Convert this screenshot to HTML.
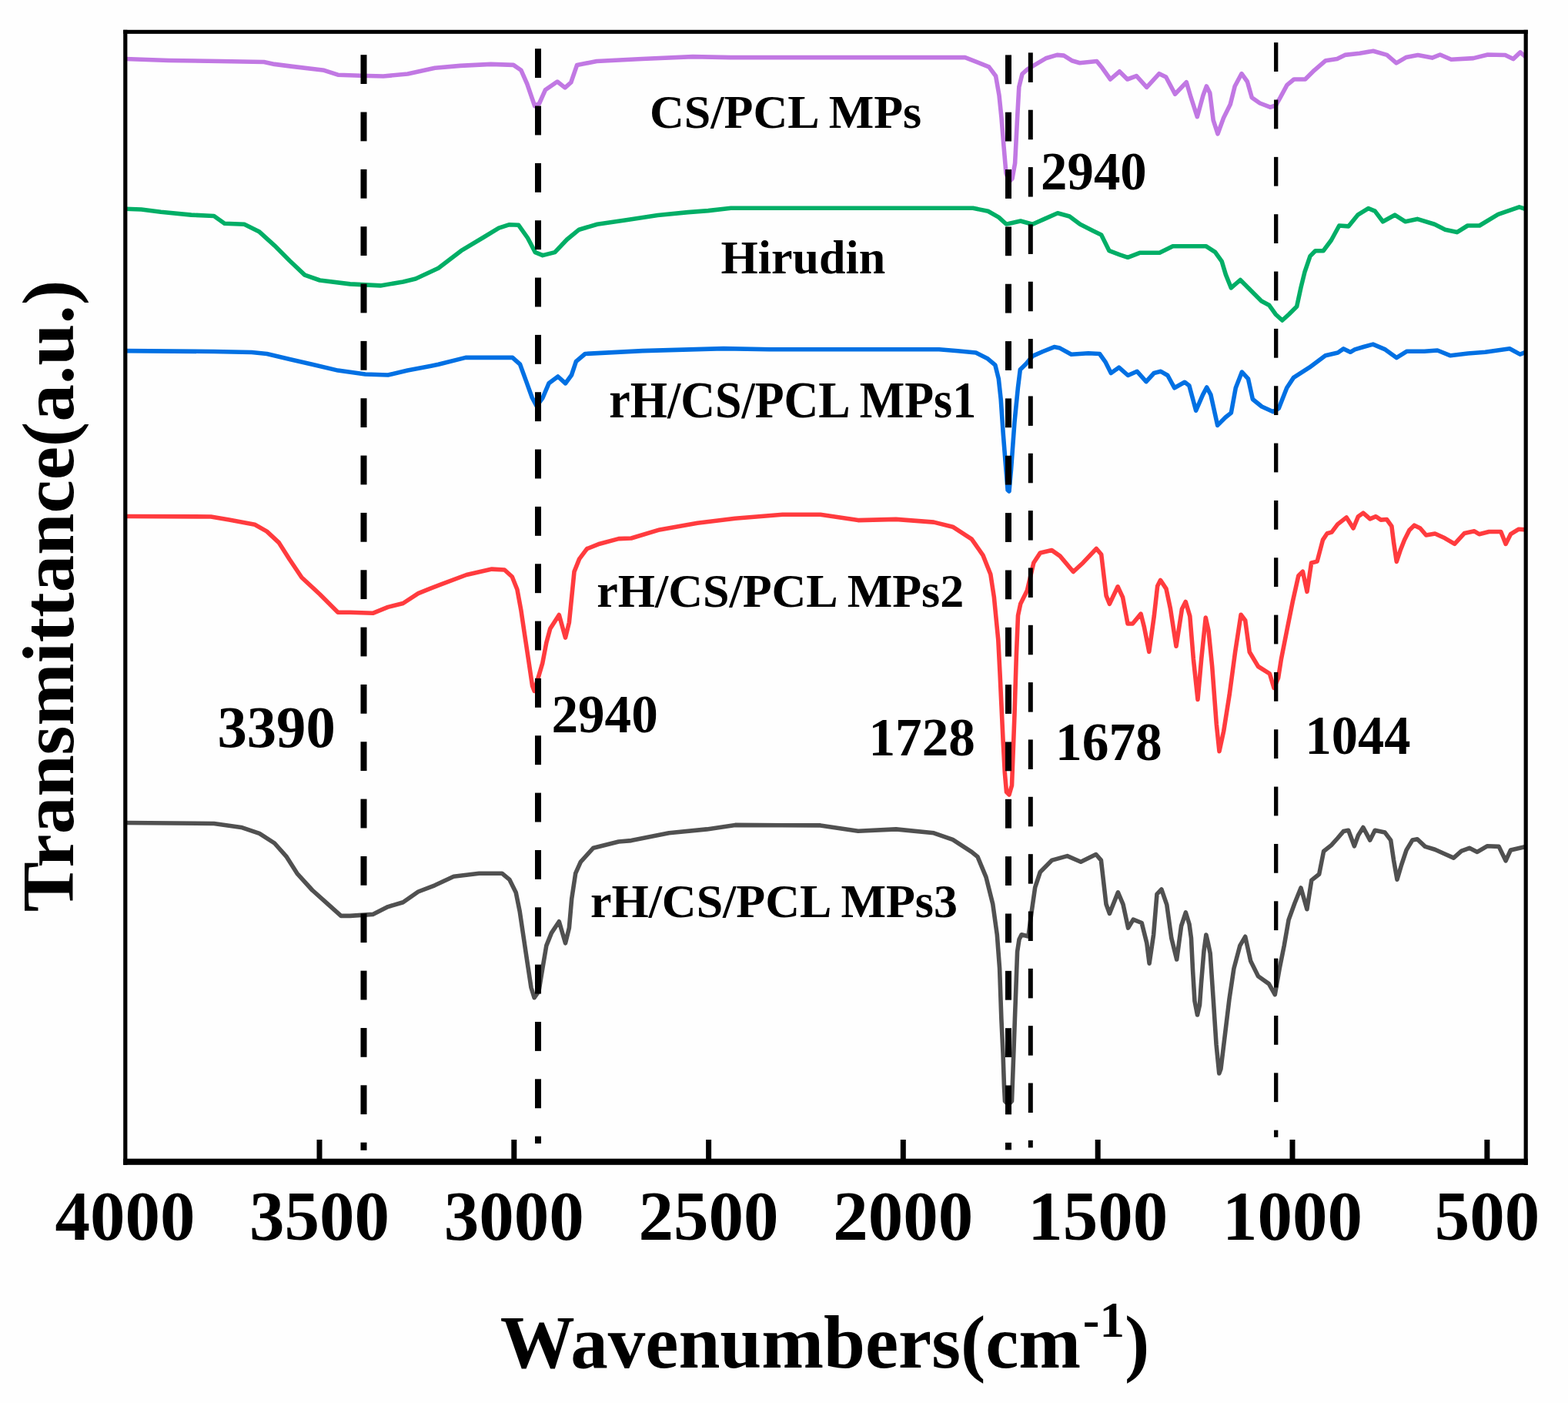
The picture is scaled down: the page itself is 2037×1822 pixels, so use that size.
<!DOCTYPE html>
<html><head><meta charset="utf-8"><title>FTIR spectra</title>
<style>html,body{margin:0;padding:0;background:#fefefe;overflow:hidden;}svg{display:block;}</style>
</head><body>
<svg width="2037" height="1822" viewBox="0 0 2037 1822">
<rect width="2037" height="1822" fill="#fefefe"/>
<g fill="none" stroke-width="5.6" stroke-linejoin="round" stroke-linecap="butt">
<path stroke="#C178E3" d="M163.0 76.5 L219.0 78.5 L286.0 79.5 L343.0 80.5 L356.6 83.4 L380.0 86.4 L421.0 91.3 L439.0 97.2 L468.6 98.2 L498.0 99.0 L529.5 96.0 L565.0 88.3 L598.0 85.4 L637.6 83.4 L667.0 84.4 L677.0 91.3 L684.8 109.0 L694.6 137.5 L700.5 134.5 L708.4 116.8 L724.0 106.0 L734.0 113.9 L741.8 107.0 L749.6 84.4 L775.2 79.5 L834.0 76.5 L900.0 73.6 L949.0 74.6 L1253.8 74.6 L1273.5 82.4 L1284.7 86.9 L1293.6 98.7 L1298.0 123.7 L1301.0 153.0 L1304.0 190.0 L1307.0 225.0 L1311.0 236.0 L1315.0 232.0 L1318.6 212.0 L1321.6 153.0 L1323.8 113.0 L1328.0 96.0 L1334.9 89.8 L1343.7 84.6 L1358.5 75.8 L1373.2 71.4 L1382.0 72.1 L1392.4 78.7 L1402.7 81.7 L1424.8 79.5 L1432.0 88.3 L1442.5 103.0 L1454.3 92.8 L1464.6 103.0 L1476.4 98.7 L1489.7 113.4 L1505.9 95.7 L1514.7 100.0 L1526.5 122.2 L1541.3 106.8 L1547.2 126.7 L1555.3 151.7 L1563.0 123.7 L1567.4 112.0 L1571.8 120.8 L1576.2 156.1 L1582.0 173.8 L1589.5 153.2 L1598.3 135.5 L1604.2 112.0 L1613.0 95.7 L1620.4 106.0 L1626.3 126.7 L1636.7 134.0 L1650.0 139.2 L1657.3 137.0 L1663.2 126.7 L1672.0 110.4 L1681.0 103.0 L1695.6 103.0 L1707.4 91.3 L1722.2 78.7 L1737.0 76.5 L1747.2 71.4 L1766.4 69.2 L1784.0 66.2 L1801.8 71.4 L1814.0 81.8 L1826.4 74.6 L1842.0 71.5 L1860.5 75.1 L1870.8 71.0 L1885.3 77.2 L1914.0 75.6 L1932.7 71.0 L1955.4 71.5 L1965.8 76.6 L1975.0 67.9 L1982.0 74.0"/>
<path stroke="#00AE66" d="M163.0 271.2 L183.6 272.0 L209.0 275.2 L248.5 279.1 L278.0 280.5 L291.7 290.3 L317.3 291.3 L337.0 301.1 L356.6 318.8 L376.2 338.5 L395.9 357.1 L415.5 364.0 L454.8 368.9 L494.2 370.9 L523.6 366.0 L540.0 362.0 L569.5 348.3 L599.0 325.7 L628.5 308.0 L648.0 296.2 L661.9 291.7 L673.7 292.3 L685.5 309.0 L695.3 327.6 L705.0 331.6 L720.8 327.6 L736.6 311.0 L752.3 298.2 L775.9 291.3 L815.2 285.4 L854.5 279.5 L893.8 275.6 L920.0 273.6 L949.5 270.3 L1057.6 270.3 L1264.0 270.3 L1283.6 274.2 L1297.4 282.1 L1307.2 291.0 L1310.3 290.4 L1325.8 287.0 L1341.3 291.3 L1356.8 284.4 L1374.0 276.7 L1389.4 281.0 L1403.2 291.3 L1420.4 299.9 L1430.7 305.0 L1441.0 325.7 L1454.8 330.8 L1465.1 334.3 L1480.6 328.3 L1506.4 328.3 L1523.6 319.7 L1549.4 319.7 L1566.6 319.7 L1578.6 327.4 L1587.2 339.4 L1592.4 356.6 L1599.3 373.8 L1611.3 363.5 L1626.8 379.0 L1638.8 391.0 L1648.6 396.2 L1657.2 408.2 L1665.8 416.0 L1674.4 408.2 L1684.7 397.9 L1689.9 373.8 L1695.0 353.2 L1702.0 332.6 L1708.8 325.7 L1719.1 325.7 L1729.4 312.0 L1739.8 293.0 L1751.8 293.9 L1763.8 279.2 L1777.6 270.6 L1786.2 274.1 L1796.5 287.8 L1812.0 279.2 L1825.8 287.8 L1841.2 284.4 L1863.6 291.3 L1877.4 298.2 L1892.8 301.6 L1906.6 293.0 L1922.0 293.0 L1946.2 278.4 L1973.7 268.9 L1982.0 271.5"/>
<path stroke="#0070E3" d="M163.0 455.6 L278.0 456.5 L327.0 457.5 L346.7 459.5 L376.2 466.4 L405.7 473.2 L439.0 481.1 L474.5 486.0 L504.0 487.0 L529.5 481.1 L560.0 475.2 L569.5 473.2 L604.9 464.4 L665.8 464.4 L675.6 473.2 L683.5 494.9 L691.3 516.5 L697.2 527.3 L705.1 516.5 L713.0 497.8 L724.8 489.0 L734.6 497.8 L742.5 487.0 L748.4 469.3 L760.1 459.5 L834.8 455.6 L940.0 452.6 L1000.0 453.8 L1220.0 453.8 L1244.2 455.8 L1267.8 458.0 L1282.6 465.4 L1292.9 474.2 L1297.3 491.9 L1300.2 518.5 L1303.2 562.7 L1306.1 599.5 L1309.1 636.4 L1311.0 638.0 L1313.5 610.0 L1318.0 548.0 L1322.4 503.7 L1325.3 480.1 L1332.7 472.8 L1341.5 462.4 L1354.8 456.5 L1369.5 450.6 L1376.9 452.1 L1391.7 460.2 L1413.8 458.7 L1428.5 459.5 L1435.9 469.8 L1443.3 484.5 L1453.6 477.2 L1465.4 487.5 L1477.2 482.3 L1489.0 495.6 L1499.2 484.5 L1508.0 482.3 L1516.9 487.5 L1525.7 503.7 L1539.0 496.3 L1544.9 500.8 L1553.7 533.2 L1562.6 512.6 L1567.7 503.0 L1572.9 512.6 L1581.7 552.4 L1592.0 542.0 L1599.4 536.1 L1605.3 503.7 L1613.4 483.1 L1621.5 491.9 L1627.4 518.5 L1639.2 528.0 L1654.0 534.7 L1661.3 530.3 L1671.7 503.7 L1680.5 490.4 L1701.1 477.2 L1721.8 461.7 L1738.0 458.0 L1745.4 452.9 L1754.2 457.3 L1760.0 453.9 L1771.3 450.5 L1783.7 447.1 L1799.6 453.9 L1814.2 464.6 L1827.8 456.2 L1850.4 456.2 L1867.4 455.0 L1884.3 461.8 L1906.9 459.0 L1929.5 457.3 L1961.2 452.8 L1974.7 460.1 L1982.0 457.3"/>
<path stroke="#FF3B3E" d="M163.0 670.5 L274.0 671.0 L297.6 675.0 L331.0 681.3 L346.7 690.1 L362.5 704.9 L376.2 726.5 L392.0 750.0 L415.5 771.7 L439.0 795.3 L454.8 795.3 L484.3 796.3 L504.0 788.4 L523.6 783.5 L543.3 770.7 L560.0 763.8 L573.0 758.9 L606.0 746.5 L638.9 739.1 L655.4 740.0 L665.3 749.0 L671.9 765.5 L676.8 791.9 L681.7 824.8 L686.7 857.8 L691.6 890.8 L694.1 897.3 L699.9 877.6 L704.8 861.1 L709.8 834.7 L714.7 816.6 L726.3 798.5 L734.5 828.1 L739.4 808.3 L742.7 775.4 L746.0 742.4 L752.6 725.9 L762.5 712.7 L779.0 706.2 L803.7 699.6 L820.0 699.0 L856.9 687.9 L906.0 679.3 L955.1 673.2 L1016.6 668.3 L1065.7 668.3 L1114.8 675.6 L1164.0 674.4 L1213.1 678.1 L1237.7 684.2 L1262.3 700.2 L1277.0 721.1 L1286.8 745.7 L1291.4 775.7 L1296.8 831.0 L1299.0 874.0 L1301.0 917.0 L1303.0 960.0 L1305.3 1003.0 L1307.5 1028.5 L1311.0 1032.0 L1314.5 1020.0 L1316.0 981.0 L1318.0 927.8 L1320.3 852.8 L1322.5 799.3 L1325.7 784.3 L1334.3 767.1 L1342.9 730.7 L1351.4 717.9 L1366.4 714.6 L1377.1 722.1 L1394.3 742.5 L1407.1 730.7 L1424.3 712.5 L1430.7 720.0 L1437.1 773.6 L1441.4 784.3 L1452.1 761.8 L1458.6 775.7 L1465.0 810.0 L1471.4 810.0 L1482.1 797.1 L1486.4 814.3 L1492.8 846.4 L1499.3 800.0 L1503.7 760.9 L1507.5 753.4 L1515.0 764.6 L1520.5 790.7 L1528.0 839.3 L1535.5 790.7 L1540.2 781.4 L1545.8 800.1 L1550.4 856.1 L1556.0 908.4 L1560.7 856.1 L1566.3 802.0 L1570.0 818.8 L1574.7 865.5 L1580.3 940.2 L1584.0 975.7 L1589.7 949.5 L1597.1 902.8 L1604.6 846.8 L1612.1 798.2 L1617.7 805.7 L1623.3 846.8 L1634.5 865.5 L1649.4 874.8 L1655.0 893.5 L1660.6 880.4 L1664.4 856.1 L1671.8 818.8 L1679.3 781.4 L1686.8 747.8 L1692.4 742.2 L1698.0 768.3 L1703.6 731.0 L1711.1 729.1 L1718.5 701.1 L1724.1 692.7 L1730.0 691.1 L1737.7 680.9 L1749.2 671.9 L1758.1 686.0 L1764.5 670.7 L1770.9 666.2 L1779.8 673.9 L1787.5 670.7 L1793.9 675.1 L1801.5 674.5 L1807.9 683.4 L1810.5 703.9 L1814.3 729.4 L1819.4 714.1 L1824.5 701.3 L1830.9 688.5 L1837.3 682.2 L1845.0 686.0 L1852.7 695.0 L1864.2 693.0 L1876.9 698.8 L1889.7 706.4 L1902.5 692.4 L1915.3 689.8 L1921.6 693.7 L1934.4 690.5 L1949.8 690.5 L1956.1 706.4 L1962.5 693.7 L1972.7 687.3 L1982.0 687.9"/>
<path stroke="#505050" d="M163.0 1068.5 L278.0 1069.5 L313.3 1074.4 L337.0 1082.3 L356.6 1095.0 L372.3 1112.7 L386.0 1134.3 L405.7 1156.0 L425.4 1173.7 L443.0 1189.4 L454.8 1189.4 L484.3 1187.4 L504.0 1177.6 L523.6 1171.7 L543.3 1158.0 L564.7 1149.8 L589.4 1138.3 L622.4 1134.2 L652.1 1134.2 L662.0 1142.4 L670.2 1158.9 L675.2 1183.6 L680.1 1216.6 L685.0 1249.5 L690.0 1282.5 L694.1 1295.7 L699.9 1287.5 L704.8 1257.8 L709.8 1228.1 L716.4 1211.6 L726.3 1196.8 L734.5 1224.8 L739.4 1205.0 L742.7 1167.1 L747.7 1134.2 L754.3 1119.3 L770.8 1101.2 L803.7 1093.0 L820.0 1091.6 L869.1 1081.8 L918.3 1076.9 L955.1 1071.4 L1065.7 1071.9 L1114.8 1079.3 L1164.0 1076.9 L1213.1 1081.8 L1237.7 1090.4 L1262.3 1106.3 L1270.0 1112.7 L1281.0 1139.1 L1289.8 1174.3 L1295.3 1213.8 L1298.6 1257.8 L1300.9 1323.7 L1303.0 1367.7 L1304.5 1411.6 L1305.5 1430.0 L1310.0 1435.0 L1314.5 1430.0 L1316.0 1389.7 L1318.4 1323.7 L1320.0 1279.8 L1321.6 1235.8 L1324.0 1220.0 L1327.1 1213.8 L1335.9 1216.0 L1340.3 1183.1 L1344.7 1152.3 L1351.3 1132.5 L1366.7 1117.1 L1386.5 1111.6 L1404.1 1119.3 L1423.8 1109.5 L1430.4 1117.1 L1437.0 1174.3 L1441.4 1186.4 L1452.4 1158.9 L1459.0 1174.3 L1465.6 1205.1 L1472.2 1194.1 L1483.2 1198.5 L1489.8 1224.8 L1493.1 1251.2 L1498.6 1213.8 L1503.0 1161.1 L1508.9 1155.0 L1515.8 1174.8 L1521.8 1218.3 L1528.7 1246.0 L1534.6 1202.5 L1540.4 1185.0 L1545.0 1200.0 L1547.5 1218.3 L1549.5 1259.0 L1552.0 1300.0 L1555.5 1318.0 L1558.5 1305.0 L1560.5 1277.0 L1564.0 1235.0 L1566.9 1214.0 L1569.5 1225.0 L1572.2 1238.1 L1576.2 1297.4 L1580.1 1356.8 L1583.8 1394.0 L1586.0 1388.0 L1591.0 1346.9 L1597.0 1297.4 L1602.9 1257.9 L1610.8 1228.2 L1617.7 1216.3 L1624.7 1248.0 L1634.5 1267.8 L1648.4 1277.6 L1656.3 1291.5 L1662.2 1257.9 L1668.2 1228.2 L1674.1 1194.5 L1682.0 1172.8 L1690.0 1153.0 L1697.9 1180.7 L1703.8 1143.1 L1713.7 1135.2 L1719.6 1105.5 L1729.5 1097.6 L1737.7 1088.5 L1745.3 1079.6 L1751.7 1078.3 L1759.4 1098.8 L1764.5 1084.7 L1770.9 1074.5 L1779.8 1091.1 L1786.2 1078.3 L1799.0 1080.9 L1806.7 1091.1 L1810.5 1116.7 L1815.0 1142.2 L1820.7 1123.0 L1827.1 1103.9 L1834.8 1091.1 L1841.2 1089.8 L1851.4 1099.4 L1864.2 1103.2 L1876.9 1109.0 L1888.4 1114.1 L1898.6 1105.2 L1908.9 1101.3 L1919.1 1106.4 L1931.9 1098.8 L1947.2 1099.4 L1956.1 1117.9 L1962.5 1103.9 L1982.0 1099.4"/>
</g>
<g fill="#000">
<rect x="468.50" y="71.20" width="8.00" height="37.80"/><rect x="468.50" y="145.54" width="8.00" height="37.80"/><rect x="468.50" y="219.88" width="8.00" height="37.80"/><rect x="468.50" y="294.22" width="8.00" height="37.80"/><rect x="468.50" y="368.56" width="8.00" height="37.80"/><rect x="468.50" y="442.90" width="8.00" height="37.80"/><rect x="468.50" y="517.24" width="8.00" height="37.80"/><rect x="468.50" y="591.58" width="8.00" height="37.80"/><rect x="468.50" y="665.92" width="8.00" height="37.80"/><rect x="468.50" y="740.26" width="8.00" height="37.80"/><rect x="468.50" y="814.60" width="8.00" height="37.80"/><rect x="468.50" y="888.94" width="8.00" height="37.80"/><rect x="468.50" y="963.28" width="8.00" height="37.80"/><rect x="468.50" y="1037.62" width="8.00" height="37.80"/><rect x="468.50" y="1111.96" width="8.00" height="37.80"/><rect x="468.50" y="1186.30" width="8.00" height="37.80"/><rect x="468.50" y="1260.64" width="8.00" height="37.80"/><rect x="468.50" y="1334.98" width="8.00" height="37.80"/><rect x="468.50" y="1409.32" width="8.00" height="37.80"/><rect x="468.50" y="1483.66" width="8.00" height="10.14"/>
<rect x="695.00" y="63.20" width="8.00" height="37.90"/><rect x="695.00" y="137.54" width="8.00" height="37.90"/><rect x="695.00" y="211.88" width="8.00" height="37.90"/><rect x="695.00" y="286.22" width="8.00" height="37.90"/><rect x="695.00" y="360.56" width="8.00" height="37.90"/><rect x="695.00" y="434.90" width="8.00" height="37.90"/><rect x="695.00" y="509.24" width="8.00" height="37.90"/><rect x="695.00" y="583.58" width="8.00" height="37.90"/><rect x="695.00" y="657.92" width="8.00" height="37.90"/><rect x="695.00" y="732.26" width="8.00" height="37.90"/><rect x="695.00" y="806.60" width="8.00" height="37.90"/><rect x="695.00" y="880.94" width="8.00" height="37.90"/><rect x="695.00" y="955.28" width="8.00" height="37.90"/><rect x="695.00" y="1029.62" width="8.00" height="37.90"/><rect x="695.00" y="1103.96" width="8.00" height="37.90"/><rect x="695.00" y="1178.30" width="8.00" height="37.90"/><rect x="695.00" y="1252.64" width="8.00" height="37.90"/><rect x="695.00" y="1326.98" width="8.00" height="37.90"/><rect x="695.00" y="1401.32" width="8.00" height="37.90"/><rect x="695.00" y="1475.66" width="8.00" height="9.34"/>
<rect x="1306.00" y="71.40" width="8.00" height="37.80"/><rect x="1306.00" y="145.74" width="8.00" height="37.80"/><rect x="1306.00" y="220.08" width="8.00" height="37.80"/><rect x="1306.00" y="294.42" width="8.00" height="37.80"/><rect x="1306.00" y="368.76" width="8.00" height="37.80"/><rect x="1306.00" y="443.10" width="8.00" height="37.80"/><rect x="1306.00" y="517.44" width="8.00" height="37.80"/><rect x="1306.00" y="591.78" width="8.00" height="37.80"/><rect x="1306.00" y="666.12" width="8.00" height="37.80"/><rect x="1306.00" y="740.46" width="8.00" height="37.80"/><rect x="1306.00" y="814.80" width="8.00" height="37.80"/><rect x="1306.00" y="889.14" width="8.00" height="37.80"/><rect x="1306.00" y="963.48" width="8.00" height="37.80"/><rect x="1306.00" y="1037.82" width="8.00" height="37.80"/><rect x="1306.00" y="1112.16" width="8.00" height="37.80"/><rect x="1306.00" y="1186.50" width="8.00" height="37.80"/><rect x="1306.00" y="1260.84" width="8.00" height="37.80"/><rect x="1306.00" y="1335.18" width="8.00" height="37.80"/><rect x="1306.00" y="1409.52" width="8.00" height="37.80"/><rect x="1306.00" y="1483.86" width="8.00" height="9.44"/>
<rect x="1335.80" y="68.40" width="6.00" height="38.50"/><rect x="1335.80" y="142.74" width="6.00" height="38.50"/><rect x="1335.80" y="217.08" width="6.00" height="38.50"/><rect x="1335.80" y="291.42" width="6.00" height="38.50"/><rect x="1335.80" y="365.76" width="6.00" height="38.50"/><rect x="1335.80" y="440.10" width="6.00" height="38.50"/><rect x="1335.80" y="514.44" width="6.00" height="38.50"/><rect x="1335.80" y="588.78" width="6.00" height="38.50"/><rect x="1335.80" y="663.12" width="6.00" height="38.50"/><rect x="1335.80" y="737.46" width="6.00" height="38.50"/><rect x="1335.80" y="811.80" width="6.00" height="38.50"/><rect x="1335.80" y="886.14" width="6.00" height="38.50"/><rect x="1335.80" y="960.48" width="6.00" height="38.50"/><rect x="1335.80" y="1034.82" width="6.00" height="38.50"/><rect x="1335.80" y="1109.16" width="6.00" height="38.50"/><rect x="1335.80" y="1183.50" width="6.00" height="38.50"/><rect x="1335.80" y="1257.84" width="6.00" height="38.50"/><rect x="1335.80" y="1332.18" width="6.00" height="38.50"/><rect x="1335.80" y="1406.52" width="6.00" height="38.50"/><rect x="1335.80" y="1480.86" width="6.00" height="9.54"/>
<rect x="1655.05" y="55.20" width="5.30" height="37.80"/><rect x="1655.05" y="129.54" width="5.30" height="37.80"/><rect x="1655.05" y="203.88" width="5.30" height="37.80"/><rect x="1655.05" y="278.22" width="5.30" height="37.80"/><rect x="1655.05" y="352.56" width="5.30" height="37.80"/><rect x="1655.05" y="426.90" width="5.30" height="37.80"/><rect x="1655.05" y="501.24" width="5.30" height="37.80"/><rect x="1655.05" y="575.58" width="5.30" height="37.80"/><rect x="1655.05" y="649.92" width="5.30" height="37.80"/><rect x="1655.05" y="724.26" width="5.30" height="37.80"/><rect x="1655.05" y="798.60" width="5.30" height="37.80"/><rect x="1655.05" y="872.94" width="5.30" height="37.80"/><rect x="1655.05" y="947.28" width="5.30" height="37.80"/><rect x="1655.05" y="1021.62" width="5.30" height="37.80"/><rect x="1655.05" y="1095.96" width="5.30" height="37.80"/><rect x="1655.05" y="1170.30" width="5.30" height="37.80"/><rect x="1655.05" y="1244.64" width="5.30" height="37.80"/><rect x="1655.05" y="1318.98" width="5.30" height="37.80"/><rect x="1655.05" y="1393.32" width="5.30" height="37.80"/><rect x="1655.05" y="1467.66" width="5.30" height="9.14"/>
</g>
<g fill="#000">
<rect x="160.2" y="38.8" width="5.2" height="1474"/>
<rect x="160.2" y="38.8" width="1824.6" height="5.1"/>
<rect x="1979.6" y="38.8" width="5.2" height="1474"/>
<rect x="160.2" y="1504.7" width="1824.6" height="8.1"/>
<rect x="411.50" y="1480" width="7" height="26"/>
<rect x="664.30" y="1480" width="7" height="26"/>
<rect x="917.10" y="1480" width="7" height="26"/>
<rect x="1169.80" y="1480" width="7" height="26"/>
<rect x="1422.70" y="1480" width="7" height="26"/>
<rect x="1675.50" y="1480" width="7" height="26"/>
<rect x="1928.40" y="1480" width="7" height="26"/>
</g>
<g font-family="'Liberation Serif', 'Times New Roman', serif" font-weight="bold" fill="#000">
<text x="162.4" y="1609.5" font-size="91" text-anchor="middle">4000</text>
<text x="415.0" y="1609.5" font-size="91" text-anchor="middle">3500</text>
<text x="667.8" y="1609.5" font-size="91" text-anchor="middle">3000</text>
<text x="920.6" y="1609.5" font-size="91" text-anchor="middle">2500</text>
<text x="1173.3" y="1609.5" font-size="91" text-anchor="middle">2000</text>
<text x="1426.2" y="1609.5" font-size="91" text-anchor="middle">1500</text>
<text x="1679.0" y="1609.5" font-size="91" text-anchor="middle">1000</text>
<text x="1931.9" y="1609.5" font-size="91" text-anchor="middle">500</text>
<text x="844.1" y="166.0" font-size="62.0" >CS/PCL MPs</text>
<text x="936.6" y="354.5" font-size="62.0" >Hirudin</text>
<text x="791.3" y="542.3" font-size="62.0" transform="translate(0 542.3) scale(1 1.085) translate(0 -542.3)">rH/CS/PCL MPs1</text>
<text x="775.2" y="787.7" font-size="62.0" >rH/CS/PCL MPs2</text>
<text x="766.9" y="1191.0" font-size="62.0" >rH/CS/PCL MPs3</text>
<text x="1352.1" y="245.5" font-size="68.8" >2940</text>
<text x="282.4" y="969.7" font-size="76.7" >3390</text>
<text x="716.4" y="951.2" font-size="69.2" >2940</text>
<text x="1128.5" y="981.0" font-size="69.2" >1728</text>
<text x="1371.0" y="986.6" font-size="69.4" >1678</text>
<text x="1695.6" y="978.6" font-size="68.5" transform="translate(0 978.6) scale(1 1.06) translate(0 -978.6)">1044</text>
<text transform="translate(94.6 1184.2) rotate(-90)" x="0" y="0" font-size="94.5" textLength="820.5" lengthAdjust="spacingAndGlyphs">Transmittance(a.u.)</text>
<text x="649.7" y="1776.2" font-size="97">Wavenumbers(cm<tspan x="1406.8" y="1735.6" font-size="65">-1</tspan><tspan x="1461.1" y="1776.2">)</tspan></text>
</g>
</svg>
</body></html>
